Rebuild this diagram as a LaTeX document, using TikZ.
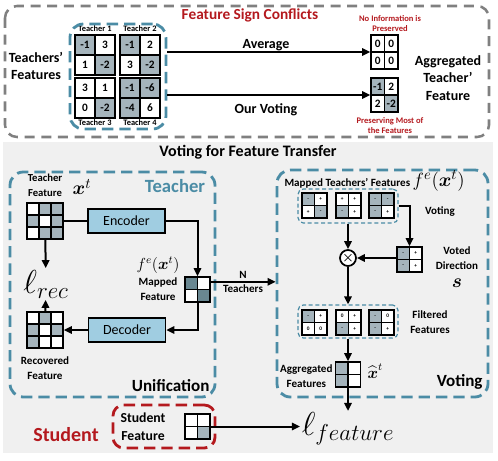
\documentclass[tikz,border=0pt]{standalone}
\usepackage{amsmath}
\usepackage{fontspec}
\setmainfont{Carlito}
\usetikzlibrary{arrows.meta,fit}

\definecolor{tealc}{RGB}{75,140,165}
\definecolor{redc}{RGB}{180,25,30}
\definecolor{framec}{RGB}{128,128,128}
\definecolor{cellg}{RGB}{165,180,188}
\definecolor{celld}{RGB}{105,135,145}
\definecolor{encc}{RGB}{160,205,225}
\definecolor{bgc}{RGB}{240,240,240}

\tikzset{every picture/.style={line width=0.75pt}}
\tikzset{
  lbl/.style={font=\bfseries\fontsize{10.5}{13}\selectfont, align=center, inner sep=0.75pt},
  sml/.style={font=\bfseries\fontsize{8.3}{11}\selectfont, align=center, inner sep=0.75pt},
  tnylbl/.style={font=\bfseries\fontsize{6.3}{7}\selectfont, inner sep=0.75pt},
  redlbl/.style={font=\bfseries\fontsize{6.4}{7.5}\selectfont, text=redc, align=center, inner sep=0.75pt},
  biglbl/.style={font=\bfseries\fontsize{12.8}{14}\selectfont, inner sep=0.75pt},
  bc/.style={draw, line width=0.9pt, inner sep=0pt, minimum size=15pt, fill=white, font=\bfseries\fontsize{8.5}{8.5}\selectfont},
  ac/.style={bc, minimum size=0pt, minimum width=10.1pt, minimum height=12.75pt},
  mc/.style={draw, line width=0.8pt, inner sep=0pt, minimum size=9pt, fill=white},
  sc/.style={draw, line width=0.8pt, inner sep=0pt, minimum size=9.4pt, fill=white, font=\bfseries\fontsize{4}{4}\selectfont},
  shd/.style={fill=cellg},
  dk/.style={fill=celld},
  gridbox/.style={draw, line width=1.2pt, inner sep=0pt},
  graydash/.style={draw=framec, line width=1.9pt, dash pattern=on 7.5pt off 5pt, rounded corners=9pt},
  tealdash/.style={draw=tealc, line width=2.1pt, dash pattern=on 8.5pt off 4.5pt, rounded corners=10pt, inner sep=0pt},
  reddash/.style={draw=redc, line width=2.1pt, dash pattern=on 8.5pt off 4.5pt, rounded corners=8pt, inner sep=0pt},
  thindash/.style={draw=tealc, line width=0.9pt, dash pattern=on 3pt off 2pt, rounded corners=4pt, inner sep=0pt},
  codebox/.style={draw, fill=encc, line width=1.2pt, minimum width=57.75pt, minimum height=18pt, font=\fontsize{10.5}{12}\selectfont},
  conn/.style={line width=1.5pt},
  arr/.style={-{Triangle[length=6pt,width=5.5pt]}, line width=1.5pt}
}

\begin{document}
\begin{tikzpicture}[x=0.75pt,y=0.75pt,yscale=-1,xscale=1]
\useasboundingbox (0,0) rectangle (498,460);

%Background of the lower part
\fill[bgc] (3,142) rectangle (493,453);
%Upper frame
\draw[graydash] (5,6) rectangle (489,137);

% Text Node
\node[lbl, text=redc, font=\bfseries\fontsize{11.5}{13}\selectfont] (sign) at (250,15) {Feature Sign Conflicts};
% Text Node
\node[lbl] (tfeat) at (36,66) {Teachers’\\Features};

%Teacher 1
\path (85,45) node[bc,shd]{-1} (105,45) node[bc]{3} (85,65) node[bc]{1} (105,65) node[bc,shd]{-2};
\node[gridbox, fit={(75,35) (115,75)}] (tone) {};
%Teacher 2
\path (130,45) node[bc,shd]{-1} (150,45) node[bc]{2} (130,65) node[bc]{3} (150,65) node[bc,shd]{-2};
\node[gridbox, fit={(120,35) (160,75)}] (ttwo) {};
%Teacher 3
\path (85,88) node[bc]{3} (105,88) node[bc]{1} (85,108) node[bc]{0} (105,108) node[bc,shd]{-2};
\node[gridbox, fit={(75,78) (115,118)}] (tthree) {};
%Teacher 4
\path (130,88) node[bc,shd]{-1} (150,88) node[bc,shd]{-6} (130,108) node[bc,shd]{-4} (150,108) node[bc]{6};
\node[gridbox, fit={(120,78) (160,118)}] (tfour) {};

\node[tnylbl] (lone) at (95,29) {Teacher 1};
\node[tnylbl] (ltwo) at (140,29) {Teacher 2};
\node[tnylbl] (lthree) at (95,123) {Teacher 3};
\node[tnylbl] (lfour) at (140,123) {Teacher 4};
\node[tealdash, fit={(70,24) (166,129)}] (tcont) {};

%Aggregated grids
\path (377.75,43.5) node[ac]{0} (391.25,43.5) node[ac]{0} (377.75,60.5) node[ac]{0} (391.25,60.5) node[ac]{0};
\node[gridbox, fit={(371,35) (398,69)}] (agtop) {};
\path (377.75,86.5) node[ac,shd]{-1} (391.25,86.5) node[ac]{2} (377.75,103.5) node[ac]{2} (391.25,103.5) node[ac,shd]{-2};
\node[gridbox, fit={(371,78) (398,112)}] (agbot) {};

\draw[arr] (tcont.east |- agtop) -- (agtop);
\draw[arr] (tcont.east |- agbot) -- (agbot);
% Text Node
\node[lbl] (avg) at (266,45) {Average};
% Text Node
\node[lbl] (ourv) at (266,110) {Our Voting};
% Text Node
\node[redlbl] (noinfo) at (390,24) {No Information is\\Preserved};
% Text Node
\node[redlbl] (pres) at (390,126) {Preserving Most of\\the Features};
% Text Node
\node[lbl] (aggt) at (448,78) {Aggregated\\Teacher'\\Feature};

% Text Node
\node[lbl, font=\bfseries\fontsize{12}{14}\selectfont] (vft) at (248,152) {Voting for Feature Transfer};

%Unification part
\node[tealdash, fit={(10,172) (215,397)}] (tbox) {};
\node[biglbl, text=tealc, font=\bfseries\fontsize{14}{16}\selectfont] (teach) at (175,186) {Teacher};
\node[sml, font=\bfseries\fontsize{8}{11}\selectfont] (tfl) at (45,185) {Teacher\\Feature};
\node[font=\fontsize{15}{15}\selectfont, inner sep=0.75pt] (xt) at (82,187) {$\boldsymbol{x}^t$};

\path (33,209) node[mc]{} (45,209) node[mc,shd]{} (57,209) node[mc,shd]{}
      (33,221) node[mc,shd]{} (45,221) node[mc]{} (57,221) node[mc,shd]{}
      (33,233) node[mc]{} (45,233) node[mc,shd]{} (57,233) node[mc,shd]{};
\node[gridbox, fit={(27,203) (63,239)}] (tgrid) {};

\node[codebox] (enc) at (126.5,221) {Encoder};
\draw[conn] (tgrid) -- (enc);

\path (191.25,283.25) node[sc,dk]{} (203.75,283.25) node[sc]{} (191.25,295.75) node[sc]{} (203.75,295.75) node[sc,dk]{};
\node[gridbox, fit={(185,277) (210,302)}] (mgrid) {};
\draw[arr] (enc) -| (mgrid);

\node[font=\fontsize{12}{12}\selectfont, inner sep=0.75pt] (fex) at (158,265) {$f^e(\boldsymbol{x}^t)$};
\node[sml] (mapf) at (158,289) {Mapped\\Feature};

\node[font=\fontsize{24}{24}\selectfont, inner sep=1pt] (lrec) at (46,284) {$\ell_{rec}$};
\draw[arr] (tgrid) -- (lrec);

\path (33,318) node[mc]{} (45,318) node[mc,shd]{} (57,318) node[mc]{}
      (33,330) node[mc,shd]{} (45,330) node[mc]{} (57,330) node[mc,shd]{}
      (33,342) node[mc,shd]{} (45,342) node[mc]{} (57,342) node[mc]{};
\node[gridbox, fit={(27,312) (63,348)}] (rgrid) {};

\node[codebox] (dec) at (127,330) {Decoder};
\draw[arr] (mgrid) |- (dec);
\draw[arr] (dec) -- (rgrid);
\draw[arr] (rgrid) -- (lrec);
\node[sml] (recf) at (45,368) {Recovered\\Feature};
\node[biglbl, anchor=east] (unif) at (211,386) {Unification};

%Voting part
\node[tealdash, fit={(277,170) (488,397)}] (vbox) {};
\draw[arr] (mgrid.30) -- (mgrid.30 -| vbox.west);
\node[sml] (nn) at (243,275) {N};
\node[sml] (nteach) at (243,289) {Teachers};

\node[sml, anchor=west] (mtf) at (283,181) {Mapped Teachers’ Features \fontsize{15}{15}\selectfont$f^e(\boldsymbol{x}^t)$};

\node[thindash, fit={(298,189) (398,223)}] (mcont) {};
\path (308.25,199.25) node[sc,shd]{-} (320.75,199.25) node[sc]{+} (308.25,211.75) node[sc]{+} (320.75,211.75) node[sc,shd]{-};
\node[gridbox, fit={(302,193) (327,218)}] (mone) {};
\path (342.25,199.25) node[sc]{+} (354.75,199.25) node[sc]{+} (342.25,211.75) node[sc,shd]{-} (354.75,211.75) node[sc]{+};
\node[gridbox, fit={(336,193) (361,218)}] (mtwo) {};
\path (375.25,199.25) node[sc,shd]{-} (387.75,199.25) node[sc,shd]{-} (375.25,211.75) node[sc,shd]{-} (387.75,211.75) node[sc]{+};
\node[gridbox, fit={(369,193) (394,218)}] (mthree) {};
\node[sml] (vot) at (440,212) {Voting};

\path (403.25,253.25) node[sc,shd]{-} (415.75,253.25) node[sc]{+} (403.25,265.75) node[sc,shd]{-} (415.75,265.75) node[sc]{+};
\node[gridbox, fit={(397,247) (422,272)}] (vgrid) {};
\draw[arr] (mcont) -| (vgrid);
\node[sml] (vdir) at (457,258) {Voted\\Direction};
\node[font=\fontsize{14}{14}\selectfont, inner sep=0.75pt] (sdir) at (457,283) {$\boldsymbol{s}$};

\node[circle, draw, line width=1.3pt, minimum size=12pt, inner sep=0pt, fill=white] (ot) at (348,258) {$\boldsymbol{\times}$};
\draw[arr] (mcont) -- (ot);
\draw[arr] (vgrid.west |- ot) -- (ot);

\node[thindash, fit={(298,305) (398,338)}] (fcont) {};
\path (308.25,316.25) node[sc,shd]{-} (320.75,316.25) node[sc]{+} (308.25,328.75) node[sc]{0} (320.75,328.75) node[sc]{0};
\node[gridbox, fit={(302,310) (327,335)}] (fone) {};
\path (342.25,316.25) node[sc]{0} (354.75,316.25) node[sc]{+} (342.25,328.75) node[sc,shd]{-} (354.75,328.75) node[sc]{+};
\node[gridbox, fit={(336,310) (361,335)}] (ftwo) {};
\path (375.25,316.25) node[sc,shd]{-} (387.75,316.25) node[sc]{0} (375.25,328.75) node[sc,shd]{-} (387.75,328.75) node[sc]{+};
\node[gridbox, fit={(369,310) (394,335)}] (fthree) {};
\draw[arr] (ot) -- (fcont);
\node[sml] (filt) at (430,322) {Filtered\\Features};

\path (341.75,368.25) node[sc,shd]{} (354.25,368.25) node[sc]{} (341.75,380.75) node[sc,shd]{} (354.25,380.75) node[sc]{};
\node[gridbox, fit={(335.5,362) (360.5,387)}] (agrid) {};
\draw[arr] (fcont) -- (agrid);
\node[sml, anchor=east] (aggf) at (334,376) {Aggregated\\Features};
\node[font=\fontsize{12}{12}\selectfont, inner sep=0.75pt, anchor=west] (xhat) at (366,371) {$\widehat{\boldsymbol{x}}^t$};
\node[biglbl, anchor=east] (vlab) at (484,382) {Voting};

%Student part
\node[reddash, fit={(113,405) (215,448)}] (sbox) {};
\node[sml, font=\bfseries\fontsize{10.3}{13.5}\selectfont] (sfeat) at (143,427) {Student\\Feature};
\path (191.25,420.25) node[sc]{} (203.75,420.25) node[sc]{} (191.25,432.75) node[sc]{} (203.75,432.75) node[sc,shd]{};
\node[gridbox, fit={(185,414) (210,439)}] (sgrid) {};
\node[biglbl, text=redc, font=\bfseries\fontsize{15}{16}\selectfont] (stud) at (66,435) {Student};

\node[font=\fontsize{24}{24}\selectfont, inner sep=1pt] (lfeat) at (348,429) {$\ell_{feature}$};
\draw[arr] (agrid) -- (agrid |- lfeat.north);
\draw[arr] (sgrid) -- (sgrid -| lfeat.west);

\end{tikzpicture}
\end{document}
